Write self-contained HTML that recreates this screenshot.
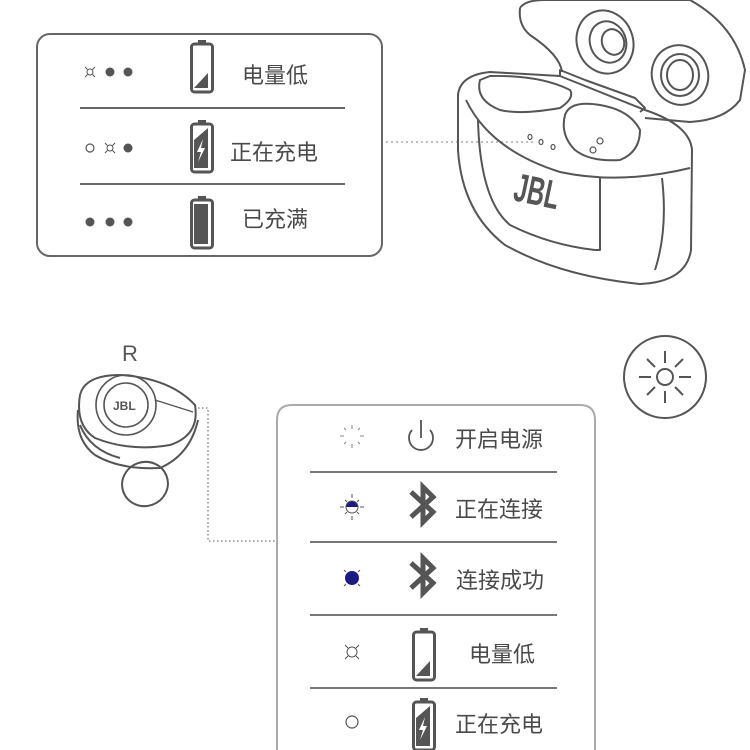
<!DOCTYPE html>
<html><head><meta charset="utf-8"><style>
html,body{margin:0;padding:0;background:#fff;}
svg{display:block;}
text{font-family:"Liberation Sans","Noto Sans CJK SC",sans-serif;fill:#4a4a4a;}
</style></head><body>
<svg width="750" height="750" viewBox="0 0 750 750" xmlns="http://www.w3.org/2000/svg">
<defs>
<g id="bat"><rect x="1.5" y="4" width="21" height="48" rx="3" fill="none" stroke="#555" stroke-width="3"/><rect x="8" y="0" width="8" height="4" fill="#555"/></g>
</defs>

<!-- Top box -->
<rect x="37" y="34" width="345" height="222" rx="13" fill="none" stroke="#666" stroke-width="2"/>
<line x1="80" y1="108" x2="345" y2="108" stroke="#666" stroke-width="2"/>
<line x1="80" y1="184" x2="345" y2="184" stroke="#666" stroke-width="2"/>
<g stroke="#555" stroke-width="1" fill="none"><circle cx="90" cy="72" r="3"/><path d="M85 67l2.5 2.5M95 67l-2.5 2.5M85 77l2.5-2.5M95 77l-2.5-2.5"/></g>
<circle cx="110" cy="72" r="4.5" fill="#555"/><circle cx="128" cy="72" r="4.5" fill="#555"/>
<use href="#bat" x="190" y="40"/>
<path d="M194 88 L208 88 L208 73 Z" fill="#555"/>
<text x="242" y="83" font-size="22">电量低</text>
<circle cx="90" cy="148" r="4" fill="none" stroke="#555" stroke-width="1.2"/>
<g stroke="#555" stroke-width="1" fill="none"><circle cx="110" cy="148" r="3"/><path d="M105 143l2.5 2.5M115 143l-2.5 2.5M105 153l2.5-2.5M115 153l-2.5-2.5"/></g>
<circle cx="128" cy="148" r="4.5" fill="#555"/>
<use href="#bat" x="190" y="120"/>
<path d="M194 168 L194 140 L208 128 L208 168 Z" fill="#555"/>
<path d="M203 139 L197 152 L201 152 L198 162 L205 148 L201 148 Z" fill="#fff"/>
<text x="230" y="160" font-size="22">正在充电</text>
<circle cx="90" cy="222" r="4.5" fill="#555"/><circle cx="110" cy="222" r="4.5" fill="#555"/><circle cx="128" cy="222" r="4.5" fill="#555"/>
<use href="#bat" x="190" y="196"/>
<rect x="194" y="204" width="14" height="40" fill="#555"/>
<text x="242" y="227" font-size="22">已充满</text>

<line x1="386" y1="142" x2="535" y2="142" stroke="#999" stroke-width="1.3" stroke-dasharray="2 3"/>

<!-- Case -->
<g fill="none" stroke="#555" stroke-width="2" stroke-linejoin="round">
<path d="M520 8 Q525 0 545 0 L690 0 Q735 25 745 70 L740 100 Q725 120 690 122 L645 118"/>
<path d="M520 8 Q518 25 530 35 Q560 55 562 72"/>
<ellipse cx="605" cy="42" rx="28" ry="32" transform="rotate(-20 605 42)"/>
<ellipse cx="608" cy="42" rx="18" ry="21" transform="rotate(-20 608 42)"/>
<ellipse cx="613" cy="42" rx="11" ry="13" transform="rotate(-20 613 42)"/>
<ellipse cx="680" cy="75" rx="28" ry="30" transform="rotate(-20 680 75)"/>
<ellipse cx="680" cy="75" rx="19" ry="21"/>
<ellipse cx="680" cy="75" rx="13" ry="15"/>
<path d="M560 76 L560 70 L585 80 L635 98 L645 108 L640 112"/>
<path d="M458 95 Q460 75 490 72 L560 76 L645 110 Q690 125 692 150 L691 250 Q686 282 640 284 Q560 276 505 245 Q462 212 458 150 Z"/>
<path d="M466 100 Q490 150 560 172 Q620 185 690 168"/>
<path d="M480 80 Q475 100 500 110 Q520 115 560 108 Q575 98 570 90 Q540 75 490 76 Z"/>
<path d="M565 115 Q570 100 600 105 Q630 110 640 130 Q640 152 620 160 Q590 162 575 150 Q560 135 565 115Z"/>
<path d="M478 120 Q480 200 510 225 Q550 245 595 250 L600 250 L600 178"/>
<path d="M662 178 Q668 230 655 270"/>
</g>
<g fill="none" stroke="#555" stroke-width="1.2"><ellipse cx="530" cy="137" rx="2" ry="2.5"/><ellipse cx="541" cy="142" rx="2" ry="2.5"/><ellipse cx="553" cy="147" rx="2" ry="2.5"/><circle cx="600" cy="141" r="3"/><circle cx="593" cy="150" r="3"/></g>
<text x="0" y="0" font-size="40" font-weight="bold" style="fill:#555" transform="translate(512 200) rotate(12) scale(0.6 1)">JBL</text>

<!-- R earbud -->
<text x="122" y="361" font-size="22" style="fill:#555">R</text>
<g fill="none" stroke="#555" stroke-width="2">
<path d="M80 395 Q85 375 120 375 Q170 378 195 405 Q200 435 170 445 Q130 452 95 438 Q75 425 80 395 Z"/>
<path d="M78 410 Q75 440 95 455 Q120 470 160 468 Q190 455 198 420"/>
<path d="M80 425 Q90 450 120 458"/>
<circle cx="126" cy="405" r="30" stroke-width="1.6"/>
<circle cx="126" cy="405" r="22" stroke-width="1.6"/>
<path d="M155 400 L193 412" stroke-width="1.3"/>
<ellipse cx="145" cy="484" rx="23" ry="22" transform="rotate(-20 145 484)"/>
</g>
<text x="113" y="410" font-size="12" font-weight="bold" style="fill:#555">JBL</text>
<path d="M198 408 H208 V541 H277" fill="none" stroke="#777" stroke-width="1.3" stroke-dasharray="1.5 2.5"/>

<!-- sun -->
<circle cx="665" cy="377" r="41" fill="none" stroke="#555" stroke-width="2"/>
<circle cx="665" cy="377" r="8" fill="none" stroke="#555" stroke-width="2"/>
<g stroke="#555" stroke-width="2"><path d="M665 351v12M665 391v12M639 377h12M679 377h12M647 359l8 8M683 359l-8 8M647 395l8-8M683 395l-8-8"/></g>

<!-- Bottom box -->
<path d="M277 760 V420 Q277 405 292 405 H580 Q595 405 595 420 V760" fill="none" stroke="#aaa" stroke-width="2"/>
<g stroke="#777" stroke-width="2"><line x1="310" y1="472" x2="557" y2="472"/><line x1="310" y1="542" x2="557" y2="542"/><line x1="310" y1="615" x2="557" y2="615"/><line x1="310" y1="688" x2="557" y2="688"/></g>
<g stroke="#888" stroke-width="1"><path d="M352 425v4M352 444v4M340 436h4M360 436h4M344 428l2 2M360 428l-2 2M344 444l2-2M360 444l-2-2"/></g>
<path d="M412 430 A12 12 0 1 0 430 430" fill="none" stroke="#555" stroke-width="1.8"/>
<line x1="421" y1="420" x2="421" y2="438" stroke="#555" stroke-width="1.8"/>
<text x="455" y="447" font-size="22">开启电源</text>
<path d="M346 507 A6 6 0 0 1 358 507 Z" fill="#1a1a80"/>
<circle cx="352" cy="507" r="6" fill="none" stroke="#555" stroke-width="1"/>
<g stroke="#555" stroke-width="1"><path d="M352 494v4M352 516v4M340 507h4M360 507h4M345 500l2 2M359 500l-2 2M345 514l2-2M359 514l-2-2"/></g>
<path d="M411 492 L433 512 L423 522 V487 L433 497 L411 517" fill="none" stroke="#555" stroke-width="5"/>
<text x="455" y="517" font-size="22">正在连接</text>
<circle cx="352" cy="578" r="7" fill="#1a1a80"/>
<g stroke="#555" stroke-width="1"><path d="M344 570l2 2M360 570l-2 2M344 586l2-2M360 586l-2-2"/></g>
<path d="M411 563 L433 583 L423 593 V558 L433 568 L411 588" fill="none" stroke="#555" stroke-width="5"/>
<text x="456" y="588" font-size="22">连接成功</text>
<g stroke="#555" stroke-width="1" fill="none"><circle cx="352" cy="652" r="5"/><path d="M345 645l3 3M359 645l-3 3M345 659l3-3M359 659l-3-3"/></g>
<use href="#bat" x="412" y="628"/>
<path d="M416 676 L430 676 L430 661 Z" fill="#555"/>
<text x="469" y="662" font-size="22">电量低</text>
<circle cx="352" cy="722" r="6" fill="none" stroke="#555" stroke-width="1.2"/>
<use href="#bat" x="412" y="698"/>
<path d="M416 746 L416 718 L430 706 L430 746 Z" fill="#555"/>
<path d="M425 717 L419 730 L423 730 L420 740 L427 726 L423 726 Z" fill="#fff"/>
<text x="455" y="732" font-size="22">正在充电</text>
</svg>
</body></html>
